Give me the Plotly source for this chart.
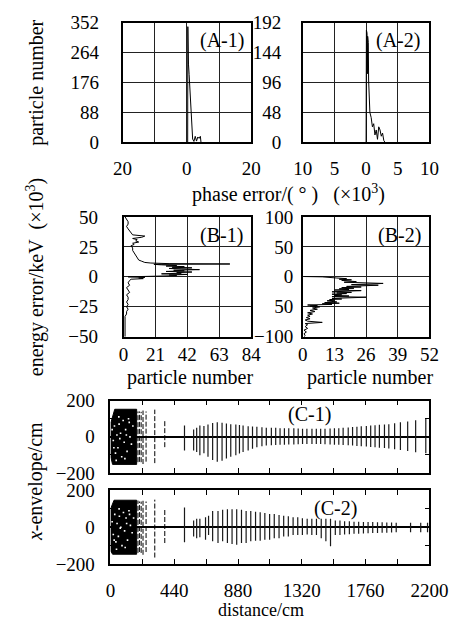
import plotly.graph_objects as go

W, H = 470, 632
FONT = "Liberation Serif"

# ---------------- data ----------------
# (A-1) phase error (x10^3 deg) vs particle number
A1_phase = [0.25, 0.3, 0.35, 0.4, 0.5, 0.7, 0.9, 1.1, 1.2, 1.4, 1.6, 1.8, 2.2, 2.6, 3.0, 3.4, 3.8, 4.2, 4.4]
A1_count = [0, 340, 300, 260, 230, 200, 170, 130, 95, 80, 40, 10, 3, 18, 4, 16, 12, 18, 0]
# (A-2)
A2_phase = [0.0, 0.05, 0.1, 0.15, 0.2, 0.25, 0.3, 0.35, 0.4, 0.5, 0.6, 0.8, 1.0, 1.2, 1.4, 1.6, 1.8, 2.0, 2.2, 2.4, 2.6, 2.8, 3.0]
A2_count = [0, 180, 120, 175, 110, 170, 130, 160, 100, 80, 48, 40, 25, 30, 12, 20, 5, 25, 20, 10, 15, 3, 0]

# (B-1) energy error (x10^3 keV) vs particle number
B1_energy = [50, 48, 46, 44, 42, 40, 38, 36, 35, 34, 33, 32, 31, 30, 29, 28, 27, 26, 24, 22, 20, 18, 16, 14, 13, 12,
             11.5, 11, 10.7, 10.4, 10, 9.5, 9, 8.5, 8, 7.5, 7, 6.5, 6, 5.5, 5, 4.5, 4, 3.5, 3, 2.5, 2, 1.5, 1, 0.5,
             0, -0.5, -1, -1.5, -2, -3, -5, -7, -9, -11, -13, -15, -17, -19, -21, -23, -25, -27, -29, -31, -33,
             -36, -40, -45, -50]
B1_count = [1, 2, 3, 3, 2, 3, 4, 5, 6, 14, 12, 6, 9, 8, 10, 6, 7, 5, 6, 6, 7, 8, 9, 10, 12, 14,
            18, 30, 70, 20, 25, 35, 28, 40, 32, 45, 30, 38, 50, 33, 40, 28, 45, 35, 38, 25, 42, 30, 35, 20,
            3, 14, 10, 13, 5, 4, 3, 4, 2, 3, 4, 2, 3, 3, 2, 3, 2, 3, 2, 2, 1,
            1, 1, 1, 1]

# (B-2)
B2_energy = [0.5, 0, -2, -3, -4, -5, -6, -7, -8, -9, -10, -11, -12, -13, -14, -15, -16, -17, -18, -19, -20,
             -21, -22, -23, -24, -25, -26, -27, -28, -29, -30, -31, -32, -33, -34, -35, -36, -37, -38, -39, -40,
             -41, -42, -43, -44, -45, -46, -47, -48, -49, -50, -52, -54, -56, -58, -60, -62, -64, -66, -68, -70,
             -72, -74, -76, -78, -80, -83, -86, -89, -92, -95, -98, -100]
B2_count = [0.3, 8, 14, 18, 15, 20, 16, 19, 22, 17, 25, 33, 28, 20, 31, 22, 18, 24, 16, 21, 15,
            19, 13, 24, 17, 12, 20, 14, 18, 12, 16, 13, 19, 12, 26, 13, 12, 16, 11, 13, 10,
            12, 14, 9, 15, 8, 12, 2, 6, 3, 7, 4, 6, 3, 5, 2, 4, 2, 3, 1.5, 3,
            1, 2, 8, 1, 2, 1, 2, 0.5, 1.5, 0.5, 1, 0.5]

# (C-1) x-envelope (cm) vs distance (cm)
C1_block_d = [4, 4, 15, 181, 181, 30, 4]
C1_block_x = [80, -115, -152, -152, 152, 152, 80]
C1_speck_d = [12, 20, 28, 35, 45, 52, 60, 70, 78, 88, 95, 105, 115, 125, 135, 145, 155, 40, 65, 100, 130, 24, 58, 110]
C1_speck_x = [40, -20, 60, -90, 10, -60, 70, 20, -110, 90, -30, 40, -80, 100, 0, -40, 60, -130, -10, -120, 80, -60, 110, 10]
C1_near_d = [190, 200, 212, 225, 246, 306, 375]
C1_near_top = [140, 140, 138, 145, 140, 150, 94]
C1_near_bot = [-140, -138, -140, -150, -137, -145, -57]
C1_d = [511, 574, 595, 617, 645, 673, 705, 737, 770, 800, 830, 865, 890, 915, 950, 980, 1010, 1045, 1075, 1110,
        1140, 1170, 1200, 1230, 1265, 1295, 1325, 1355, 1390, 1420, 1450, 1480, 1515, 1545, 1575, 1605, 1640, 1670,
        1700, 1730, 1765, 1795, 1825, 1855, 1890, 1920, 1960, 2000, 2050, 2105, 2175]
C1_top = [62, 41, 50, 62, 60, 68, 76, 80, 78, 73, 70, 68, 65, 62, 59, 57, 55, 53, 50, 50,
          50, 48, 48, 47, 47, 46, 45, 45, 44, 44, 45, 45, 46, 47, 48, 50, 52, 54,
          56, 58, 60, 62, 64, 66, 68, 70, 75, 80, 85, 92, 98]
C1_bot = [-75, -75, -84, -101, -90, -110, -128, -137, -132, -119, -110, -101, -92, -84, -75, -66, -57, -52, -48, -46,
          -45, -44, -43, -42, -42, -41, -40, -40, -40, -40, -40, -41, -42, -43, -44, -45, -46, -48,
          -50, -52, -54, -56, -58, -60, -62, -64, -68, -72, -78, -85, -90]

# (C-2)
C2_block_d = [4, 4, 15, 181, 181, 25, 4]
C2_block_x = [105, -131, -147, -147, 147, 147, 105]
C2_speck_d = [12, 20, 30, 38, 46, 55, 62, 72, 80, 90, 98, 108, 118, 128, 138, 150, 160, 42, 68, 102, 132, 26, 60, 112]
C2_speck_x = [30, -40, 70, -80, 20, -50, 60, 0, -100, 80, -20, 50, -70, 90, 10, -30, 50, -120, -5, -110, 70, -70, 100, 20]
C2_near_d = [190, 200, 212, 225, 246, 306, 375]
C2_near_top = [145, 140, 140, 145, 140, 150, 98]
C2_near_bot = [-140, -135, -140, -150, -135, -165, -86]
C2_d = [511, 574, 595, 617, 656, 677, 705, 742, 774, 807, 839, 871, 904, 936, 968, 1001, 1033, 1065, 1098, 1130,
        1163, 1195, 1227, 1260, 1292, 1324, 1357, 1389, 1421, 1454, 1486, 1518, 1551, 1583, 1615, 1648, 1680, 1712,
        1745, 1777, 1809, 1842, 1874, 1906, 1939, 1971, 2070, 2140, 2187]
C2_top = [107, 37, 46, 46, 54, 63, 89, 89, 95, 98, 98, 98, 95, 89, 89, 84, 81, 77, 72, 72,
          67, 63, 60, 54, 54, 49, 46, 46, 46, 46, 46, 46, 37, 37, 32, 32, 30, 30,
          28, 28, 28, 27, 27, 26, 26, 25, 25, 25, 25]
C2_bot = [-82, -51, -60, -55, -68, -42, -77, -86, -77, -86, -91, -95, -86, -86, -77, -74, -74, -68, -68, -60,
          -60, -51, -51, -42, -42, -42, -39, -42, -42, -60, -77, -103, -42, -42, -39, -38, -36, -35,
          -34, -33, -32, -31, -30, -30, -29, -28, -28, -28, -28]

# tick labels
A1_ticks = [-20, -10, 0, 10, 20]
A1_ticktext = ["20", "", "0", "", "20"]
A2_ticks = [-10, -5, 0, 5, 10]
A2_ticktext = ["10", "5", "0", "5", "10"]
A1_yticks = [0, 88, 176, 264, 352]
A2_yticks = [0, 48, 96, 144, 192]
B1_xticks = [0, 21, 42, 63, 84]
B2_xticks = [0, 13, 26, 39, 52]
B1_yticks = [-50, -25, 0, 25, 50]
B1_yticktext = ["−50", "−25", "0", "25", "50"]
B2_yticks = [-100, -50, 0, 50, 100]
B2_yticktext = ["−100", "50", "0", "50", "100"]
C_xticks = [0, 220, 440, 660, 880, 1100, 1320, 1540, 1760, 1980, 2200]
C_xticktext = ["0", "", "440", "", "880", "", "1320", "", "1760", "", "2200"]
C_yticks = [-200, -100, 0, 100, 200]
C_yticktext = ["−200", "", "0", "", "200"]


def segs(xs, lo, hi):
    X, Y = [], []
    for x, a, b in zip(xs, lo, hi):
        X += [x, x, None]
        Y += [a, b, None]
    return X, Y


def xd(p0, p1):
    return [p0 / W, p1 / W]


def yd(p0, p1):
    return [1 - p1 / H, 1 - p0 / H]


fig = go.Figure()
line = dict(color="black", width=1)

fig.add_trace(go.Scatter(x=A1_phase, y=A1_count, mode="lines", line=line, xaxis="x", yaxis="y"))
fig.add_trace(go.Scatter(x=A2_phase, y=A2_count, mode="lines", line=line, xaxis="x2", yaxis="y2"))
fig.add_trace(go.Scatter(x=B1_count, y=B1_energy, mode="lines", line=line, xaxis="x3", yaxis="y3"))
fig.add_trace(go.Scatter(x=B2_count, y=B2_energy, mode="lines", line=line, xaxis="x4", yaxis="y4"))

for (bd, bx, sd, sx, nd, nt, nb, dd, tt, bb, xa, ya) in [
    (C1_block_d, C1_block_x, C1_speck_d, C1_speck_x, C1_near_d, C1_near_top, C1_near_bot, C1_d, C1_top, C1_bot, "x5", "y5"),
    (C2_block_d, C2_block_x, C2_speck_d, C2_speck_x, C2_near_d, C2_near_top, C2_near_bot, C2_d, C2_top, C2_bot, "x6", "y6"),
]:
    fig.add_trace(go.Scatter(x=bd, y=bx, mode="lines", fill="toself", fillcolor="black",
                             line=dict(color="black", width=1), xaxis=xa, yaxis=ya))
    fig.add_trace(go.Scatter(x=sd, y=sx, mode="markers", marker=dict(color="white", size=1.6, symbol="square"),
                             xaxis=xa, yaxis=ya))
    X, Y = segs(nd, nb, nt)
    fig.add_trace(go.Scatter(x=X, y=Y, mode="lines", line=dict(color="black", width=1, dash="5px,2px"),
                             xaxis=xa, yaxis=ya))
    X, Y = segs(dd, bb, tt)
    fig.add_trace(go.Scatter(x=X, y=Y, mode="lines", line=dict(color="#1a1a1a", width=1.2),
                             xaxis=xa, yaxis=ya))

tickfont = dict(family=FONT, size=19, color="black")
base = dict(showline=True, mirror=True, linecolor="black", linewidth=1.5, zeroline=False,
            tickfont=tickfont, fixedrange=True)
grid = dict(showgrid=True, gridcolor="#222", gridwidth=1, ticks="")

layout = dict(
    width=W, height=H, margin=dict(l=0, r=0, t=0, b=0),
    paper_bgcolor="white", plot_bgcolor="white", showlegend=False,
    font=dict(family=FONT, color="black"),
    xaxis=dict(**base, **grid, domain=xd(120, 257), range=[-20, 20], tickvals=A1_ticks, ticktext=A1_ticktext,
               anchor="y", ticklabelstandoff=8),
    yaxis=dict(**base, **grid, domain=yd(13, 137), range=[0, 352], tickvals=A1_yticks, anchor="x",
               ticklabelstandoff=18),
    xaxis2=dict(**base, **grid, domain=xd(312, 447), range=[-10, 10], tickvals=A2_ticks, ticktext=A2_ticktext,
                anchor="y2", ticklabelstandoff=8),
    yaxis2=dict(**base, **grid, domain=yd(13, 137), range=[0, 192], tickvals=A2_yticks, anchor="x2",
                ticklabelstandoff=16),
    xaxis3=dict(**base, **grid, domain=xd(121, 257), range=[0, 84], tickvals=B1_xticks, anchor="y3",
                ticklabelstandoff=0),
    yaxis3=dict(**base, **grid, domain=yd(214, 338), range=[-50, 50], tickvals=B1_yticks, ticktext=B1_yticktext,
                anchor="x3", ticklabelstandoff=20),
    xaxis4=dict(**base, **grid, domain=xd(312, 447), range=[0, 52], tickvals=B2_xticks, anchor="y4",
                ticklabelstandoff=0),
    yaxis4=dict(**base, **grid, domain=yd(214, 338), range=[-100, 100], tickvals=B2_yticks, ticktext=B2_yticktext,
                anchor="x4", ticklabelstandoff=4),
)
cx = dict(showline=True, mirror="ticks", linecolor="black", linewidth=1.5, tickfont=tickfont, fixedrange=True,
          showgrid=False, ticks="inside", ticklen=5, tickwidth=1, tickcolor="black", range=[0, 2200],
          tickvals=C_xticks, ticktext=C_xticktext)
cy = dict(showline=True, mirror="ticks", linecolor="black", linewidth=1.5, tickfont=tickfont, fixedrange=True,
          showgrid=False, ticks="inside", ticklen=5, tickwidth=1, tickcolor="black", range=[-200, 200],
          tickvals=C_yticks, ticktext=C_yticktext, zeroline=True, zerolinecolor="black", zerolinewidth=1.5)
layout["xaxis5"] = dict(**cx, domain=xd(107, 447), anchor="y5", showticklabels=False)
layout["yaxis5"] = dict(**cy, domain=yd(404, 479), anchor="x5", ticklabelstandoff=10)
layout["xaxis6"] = dict(**cx, domain=xd(107, 447), anchor="y6", ticklabelstandoff=8)
layout["yaxis6"] = dict(**cy, domain=yd(497, 573), anchor="x6", ticklabelstandoff=10)
fig.update_layout(**layout)

NB = "\u00a0"


def ann(text, px, py, size=20, angle=0):
    fig.add_annotation(text=text, x=px / W, y=1 - py / H, xref="paper", yref="paper", showarrow=False,
                       xanchor="center", yanchor="middle", textangle=angle,
                       font=dict(family=FONT, size=size, color="black"))


ann("particle number", 28, 75, angle=-90)
ann("energy error/keV" + NB * 2 + "(×10<sup>3</sup>)", 27, 276, angle=-90)
ann("<i>x</i>-envelope/cm", 27, 488, angle=-90)
ann("phase error/(" + NB + "°" + NB + ")" + NB * 3 + "(×10<sup>3</sup>)", 297, 190)
ann("particle number", 192, 380)
ann("particle number", 384, 380)
ann("distance/cm", 268, 621, size=18)
ann("(A-1)", 226, 32)
ann("(A-2)", 414, 32)
ann("(B-1)", 225, 233)
ann("(B-2)", 415, 233)
ann("(C-1)", 319, 418)
ann("(C-2)", 347, 516)

fig.write_html("out.html")
